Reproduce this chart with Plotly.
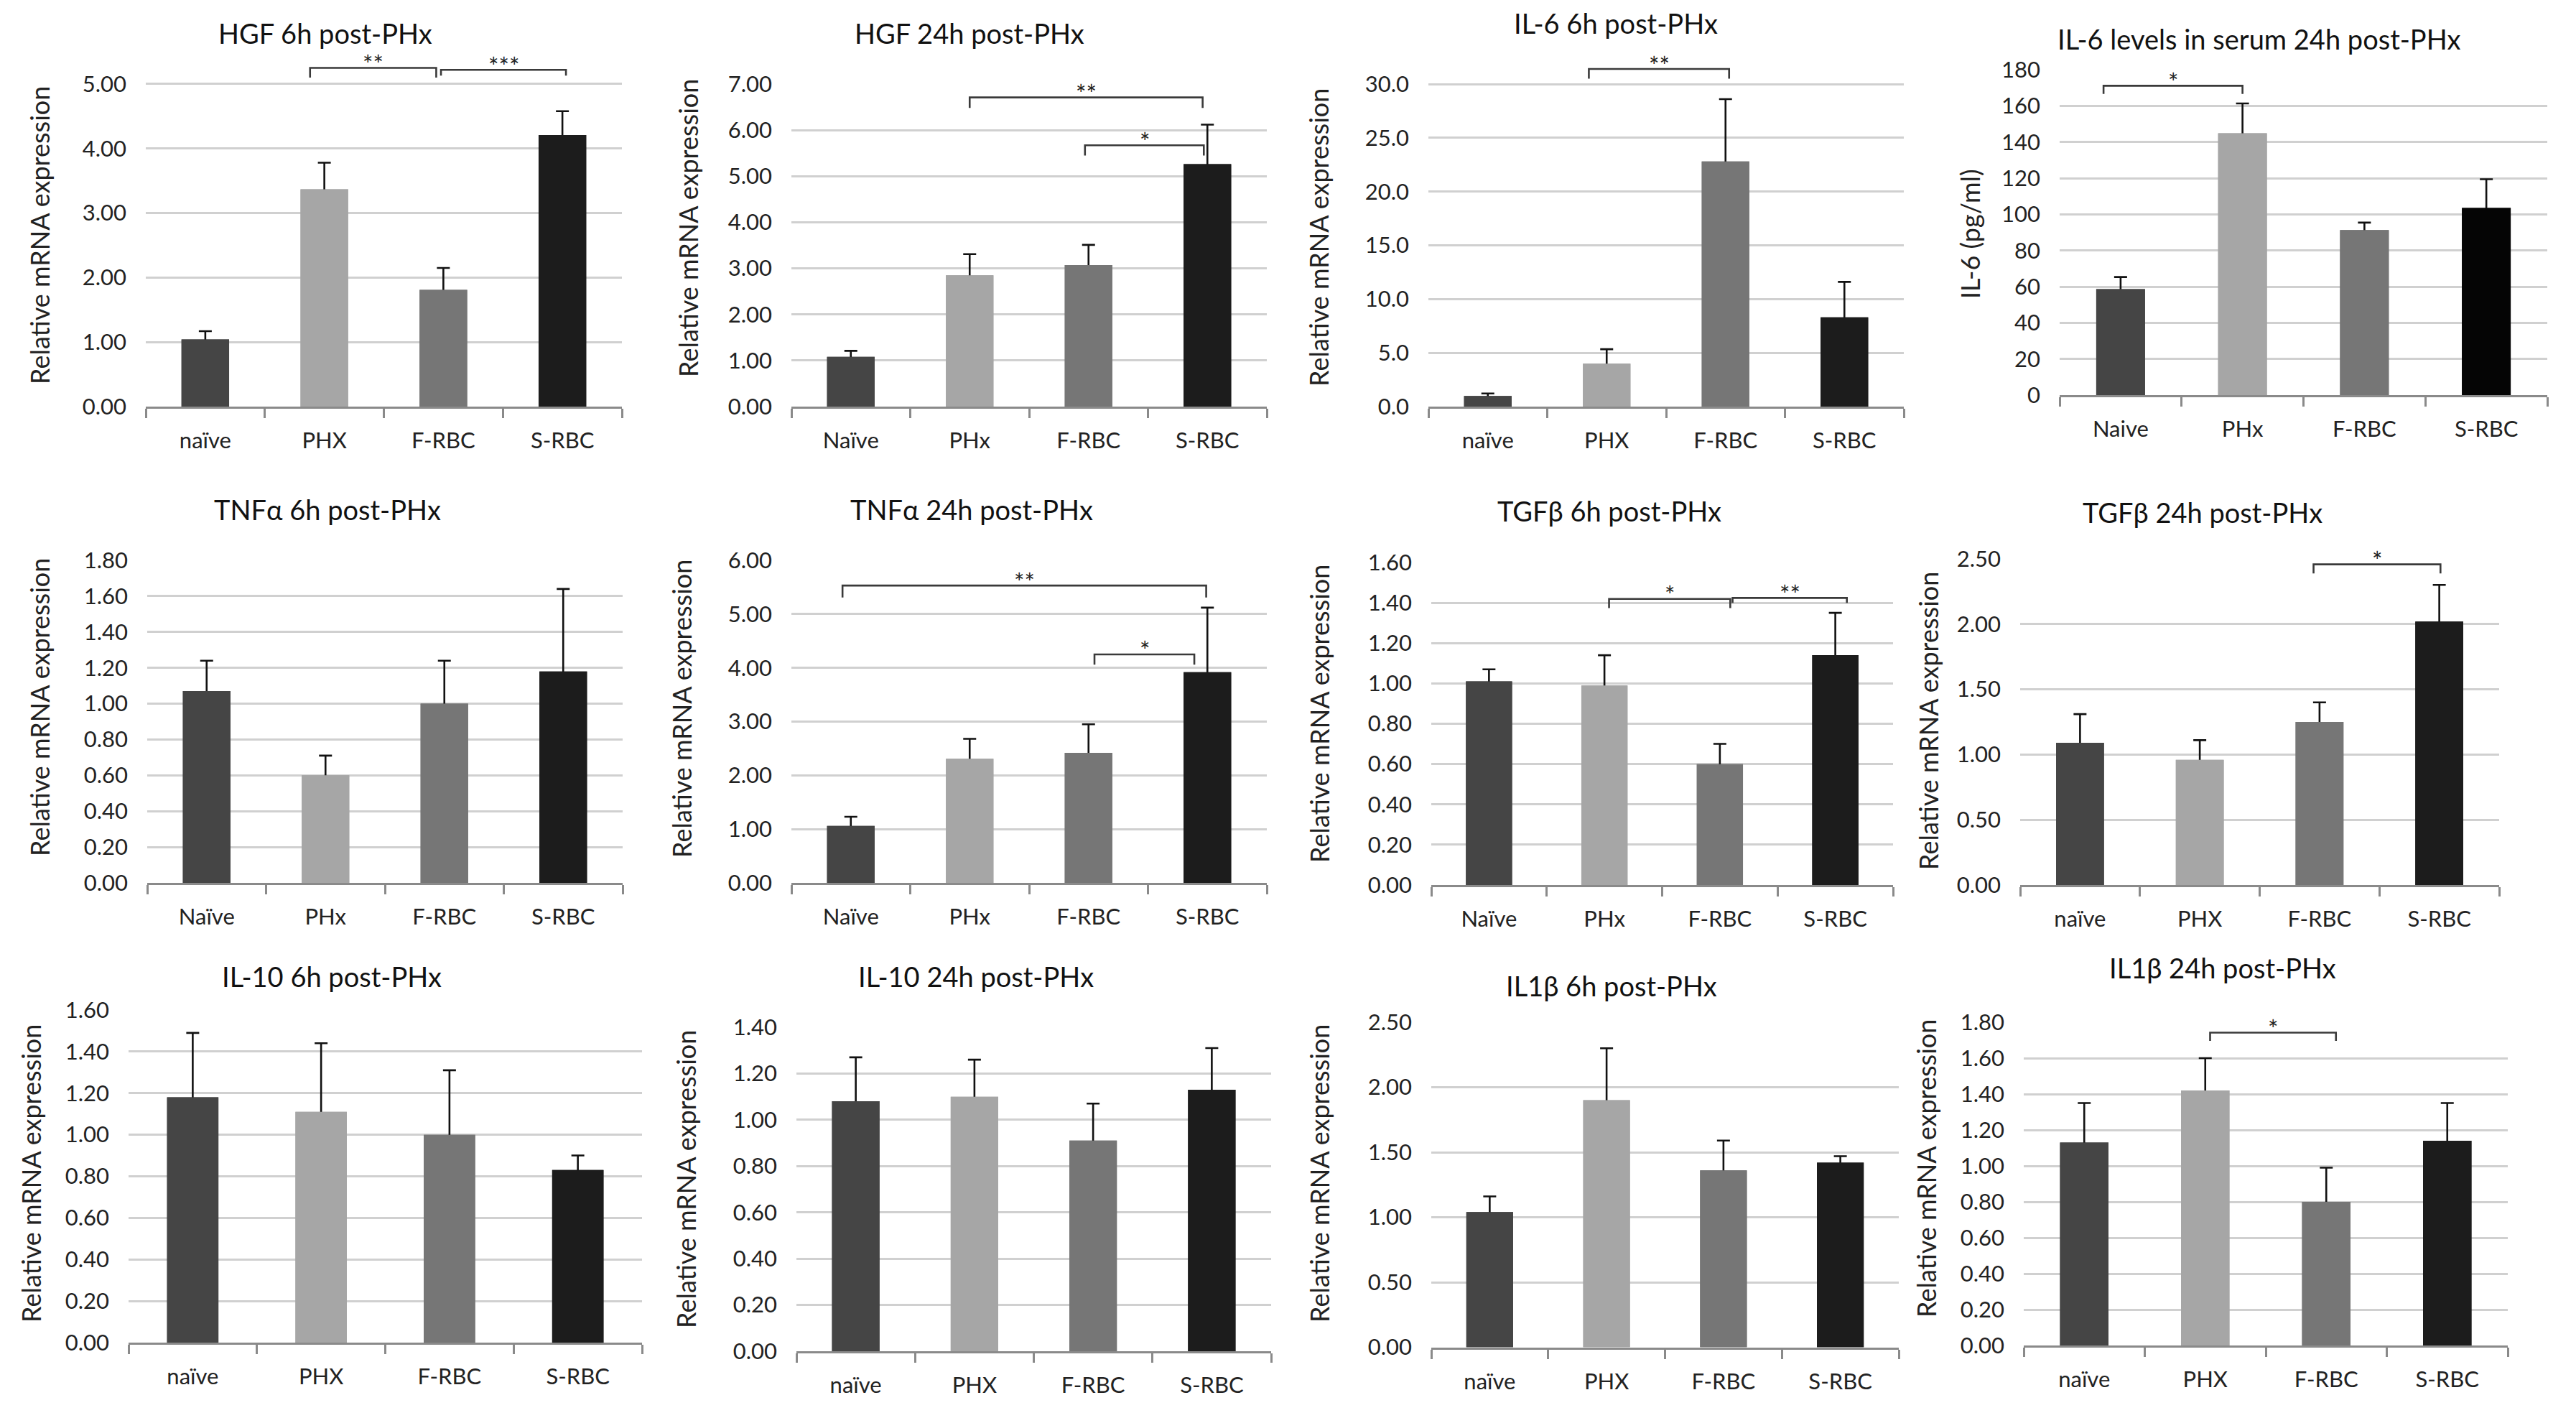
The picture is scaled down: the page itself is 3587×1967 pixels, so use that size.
import plotly.graph_objects as go

# ---------------- data ----------------
hgf6_labels = ["naïve", "PHX", "F-RBC", "S-RBC"]
hgf6_mean = [1.04, 3.37, 1.81, 4.21]
hgf6_sem = [0.13, 0.41, 0.34, 0.37]

hgf24_labels = ["Naïve", "PHx", "F-RBC", "S-RBC"]
hgf24_mean = [1.08, 2.85, 3.07, 5.26]
hgf24_sem = [0.13, 0.46, 0.44, 0.86]

il6_6_labels = ["naïve", "PHX", "F-RBC", "S-RBC"]
il6_6_mean = [0.99, 4.0, 22.8, 8.3]
il6_6_sem = [0.23, 1.34, 5.8, 3.3]

il6_serum_labels = ["Naive", "PHx", "F-RBC", "S-RBC"]
il6_serum_mean = [58.6, 144.8, 91.3, 103.5]
il6_serum_sem = [6.7, 16.5, 4.1, 15.9]

tnf6_labels = ["Naïve", "PHx", "F-RBC", "S-RBC"]
tnf6_mean = [1.07, 0.60, 1.00, 1.18]
tnf6_sem = [0.17, 0.11, 0.24, 0.46]

tnf24_labels = ["Naïve", "PHx", "F-RBC", "S-RBC"]
tnf24_mean = [1.06, 2.31, 2.42, 3.92]
tnf24_sem = [0.17, 0.37, 0.53, 1.20]

tgf6_labels = ["Naïve", "PHx", "F-RBC", "S-RBC"]
tgf6_mean = [1.01, 0.99, 0.60, 1.14]
tgf6_sem = [0.06, 0.15, 0.10, 0.21]

tgf24_labels = ["naïve", "PHX", "F-RBC", "S-RBC"]
tgf24_mean = [1.09, 0.96, 1.25, 2.02]
tgf24_sem = [0.22, 0.15, 0.15, 0.28]

il10_6_labels = ["naïve", "PHX", "F-RBC", "S-RBC"]
il10_6_mean = [1.18, 1.11, 1.00, 0.83]
il10_6_sem = [0.31, 0.33, 0.31, 0.07]

il10_24_labels = ["naïve", "PHX", "F-RBC", "S-RBC"]
il10_24_mean = [1.08, 1.10, 0.91, 1.13]
il10_24_sem = [0.19, 0.16, 0.16, 0.18]

il1b6_labels = ["naïve", "PHX", "F-RBC", "S-RBC"]
il1b6_mean = [1.04, 1.90, 1.36, 1.42]
il1b6_sem = [0.12, 0.40, 0.23, 0.05]

il1b24_labels = ["naïve", "PHX", "F-RBC", "S-RBC"]
il1b24_mean = [1.13, 1.42, 0.80, 1.14]
il1b24_sem = [0.22, 0.18, 0.19, 0.21]

titles = ["HGF 6h post-PHx", "HGF 24h post-PHx", "IL-6 6h post-PHx",
          "IL-6 levels in serum 24h post-PHx",
          "TNFα 6h post-PHx", "TNFα 24h post-PHx", "TGFβ 6h post-PHx", "TGFβ 24h post-PHx",
          "IL-10 6h post-PHx", "IL-10 24h post-PHx", "IL1β 6h post-PHx", "IL1β 24h post-PHx"]
ytitles = ["Relative mRNA expression"] * 3 + ["IL-6 (pg/ml)"] + ["Relative mRNA expression"] * 8

# significance brackets: (from group, to group, level, tip level, label)
hgf6_sig = [(0.88, 1.94, 5.25, 5.10, "**"), (1.98, 3.03, 5.22, 5.13, "***")]
hgf24_sig = [(1.0, 2.96, 6.71, 6.48, "**"), (1.97, 2.97, 5.67, 5.45, "*")]
il6_6_sig = [(0.85, 2.03, 31.4, 30.5, "**")]
il6_serum_sig = [(-0.14, 1.0, 171.1, 166.6, "*")]
tnf24_sig = [(-0.07, 2.99, 5.53, 5.31, "**"), (2.05, 2.89, 4.25, 4.06, "*")]
tgf6_sig = [(1.04, 2.09, 1.419, 1.374, "*"), (2.11, 3.10, 1.424, 1.40, "**")]
tgf24_sig = [(1.95, 3.01, 2.458, 2.388, "*")]
il1b24_sig = [(1.04, 2.08, 1.742, 1.696, "*")]

# ---------------- layout helpers ----------------
W, H = 3587, 1967
PAD = 8
FW, FH = W - 2 * PAD, H - 2 * PAD


def fx(x):
    return (x - PAD) / FW


def fy(y):
    return 1 - (y - PAD) / FH


FONT = "Lato, 'Open Sans', sans-serif"
BAR_COLORS = ["#454545", "#a6a6a6", "#767676", "#1c1c1c"]
BAR_COLORS_SERUM = ["#454545", "#a6a6a6", "#767676", "#050505"]

# panel geometry: left, right, y of zero, y of top tick (page px); tick step, top tick, range top, format
panels = [
    (hgf6_labels, hgf6_mean, hgf6_sem, hgf6_sig, (203, 866, 566, 117), 1, 5, 5.33, ".2f",
     (453, 46), (55, 328)),
    (hgf24_labels, hgf24_mean, hgf24_sem, hgf24_sig, (1102, 1764, 566, 117), 1, 7, 7.0, ".2f",
     (1350, 46), (958, 318)),
    (il6_6_labels, il6_6_mean, il6_6_sem, il6_6_sig, (1989, 2651, 566, 117), 5, 30, 31.8, ".1f",
     (2250, 32), (1836, 330)),
    (il6_serum_labels, il6_serum_mean, il6_serum_sem, il6_serum_sig, (2868, 3547, 550, 97), 20, 180, 180, "d",
     (3146, 54), (2743, 326)),
    (tnf6_labels, tnf6_mean, tnf6_sem, [], (205, 867, 1229, 780), 0.2, 1.8, 1.8, ".2f",
     (456, 709), (55, 985)),
    (tnf24_labels, tnf24_mean, tnf24_sem, tnf24_sig, (1102, 1764, 1229, 780), 1, 6, 6, ".2f",
     (1353, 709), (949, 987)),
    (tgf6_labels, tgf6_mean, tgf6_sem, tgf6_sig, (1993, 2636, 1232, 783), 0.2, 1.6, 1.6, ".2f",
     (2241, 711), (1837, 993)),
    (tgf24_labels, tgf24_mean, tgf24_sem, tgf24_sig, (2813, 3480, 1232, 778), 0.5, 2.5, 2.5, ".2f",
     (3067, 713), (2685, 1004)),
    (il10_6_labels, il10_6_mean, il10_6_sem, [], (179, 894, 1869, 1406), 0.2, 1.6, 1.6, ".2f",
     (462, 1359), (43, 1634)),
    (il10_24_labels, il10_24_mean, il10_24_sem, [], (1109, 1770, 1881, 1430), 0.2, 1.4, 1.4, ".2f",
     (1359, 1359), (955, 1642)),
    (il1b6_labels, il1b6_mean, il1b6_sem, [], (1993, 2644, 1875.5, 1423), 0.5, 2.5, 2.5, ".2f",
     (2244, 1372), (1837, 1633)),
    (il1b24_labels, il1b24_mean, il1b24_sem, il1b24_sig, (2818, 3492, 1873, 1423), 0.2, 1.8, 1.8, ".2f",
     (3095, 1347), (2682, 1627)),
]

fig = go.Figure()
layout = dict(
    width=FW, height=FH, margin=dict(l=0, r=0, t=0, b=0, pad=0, autoexpand=False),
    paper_bgcolor="white", plot_bgcolor="white",
    barmode="overlay", showlegend=False,
    font=dict(family=FONT, color="#222222"),
)
annotations = []

for i, (labels, mean, sem, sig, geo, step, top_tick, rtop, fmt, tpos, ytpos) in enumerate(panels, start=1):
    left, right, yzero, ytop = geo
    xa, ya = f"x{i}", f"y{i}"
    xkey, ykey = f"xaxis{i}", f"yaxis{i}"
    colors = BAR_COLORS_SERUM if i == 4 else BAR_COLORS
    pos = list(range(len(labels)))

    # bars with error bars, then bars again on top to hide the lower half of the error bars
    fig.add_trace(go.Bar(
        x=pos, y=mean, width=0.4, marker=dict(color=colors, line=dict(width=0)),
        error_y=dict(type="data", array=sem, symmetric=True, color="#111111",
                     thickness=2.6, width=9),
        xaxis=xa, yaxis=ya, hoverinfo="skip"))
    fig.add_trace(go.Bar(
        x=pos, y=mean, width=0.4, marker=dict(color=colors, line=dict(width=0)),
        xaxis=xa, yaxis=ya, hoverinfo="skip"))

    # significance brackets
    for (a, b, lvl, tip, lab) in sig:
        fig.add_trace(go.Scatter(
            x=[a, a, b, b], y=[tip, lvl, lvl, tip], mode="lines",
            line=dict(color="#3a3a3a", width=2.6), xaxis=xa, yaxis=ya,
            hoverinfo="skip"))
        annotations.append(dict(
            x=(a + b) / 2, y=lvl, xref=xa, yref=ya, text=lab, showarrow=False,
            xanchor="center", yanchor="middle", yshift=6,
            font=dict(size=34, family=FONT, color="#222222")))

    span = yzero - ytop
    y_top_px = yzero - span * rtop / top_tick
    n = int(round(top_tick / step))
    tickvals = [round(k * step, 6) for k in range(n + 1)]

    layout[xkey] = dict(
        domain=[fx(left), fx(right)], anchor=ya, range=[-0.5, 3.5],
        tickmode="array", tickvals=pos, ticktext=labels, ticks="",
        showgrid=False, zeroline=False, showline=True, linecolor="#8a8a8a", linewidth=3,
        tickfont=dict(size=31, family=FONT, color="#222222"), ticklabelstandoff=18,
        minor=dict(tickmode="array", tickvals=[-0.5, 0.5, 1.5, 2.5, 3.5], ticks="outside",
                   ticklen=13, tickwidth=2.5, tickcolor="#8a8a8a", showgrid=False),
        automargin=False, fixedrange=True)
    layout[ykey] = dict(
        domain=[fy(yzero), fy(y_top_px)], anchor=xa, range=[0, rtop],
        tickmode="array", tickvals=tickvals, tickformat=fmt, ticks="",
        showgrid=True, gridcolor="#d0d0d0", gridwidth=3, zeroline=False, showline=False,
        tickfont=dict(size=31, family=FONT, color="#222222"), ticklabelstandoff=26,
        automargin=False, fixedrange=True)

    annotations.append(dict(
        x=fx(tpos[0]), y=fy(tpos[1]), xref="paper", yref="paper", text=titles[i - 1],
        showarrow=False, xanchor="center", yanchor="middle",
        font=dict(size=38, family=FONT, color="#111111")))
    annotations.append(dict(
        x=fx(ytpos[0]), y=fy(ytpos[1]), xref="paper", yref="paper", text=ytitles[i - 1],
        showarrow=False, xanchor="center", yanchor="middle", textangle=-90,
        font=dict(size=36, family=FONT, color="#222222")))

layout["annotations"] = annotations
fig.update_layout(**layout)
fig.write_html("out.html")
